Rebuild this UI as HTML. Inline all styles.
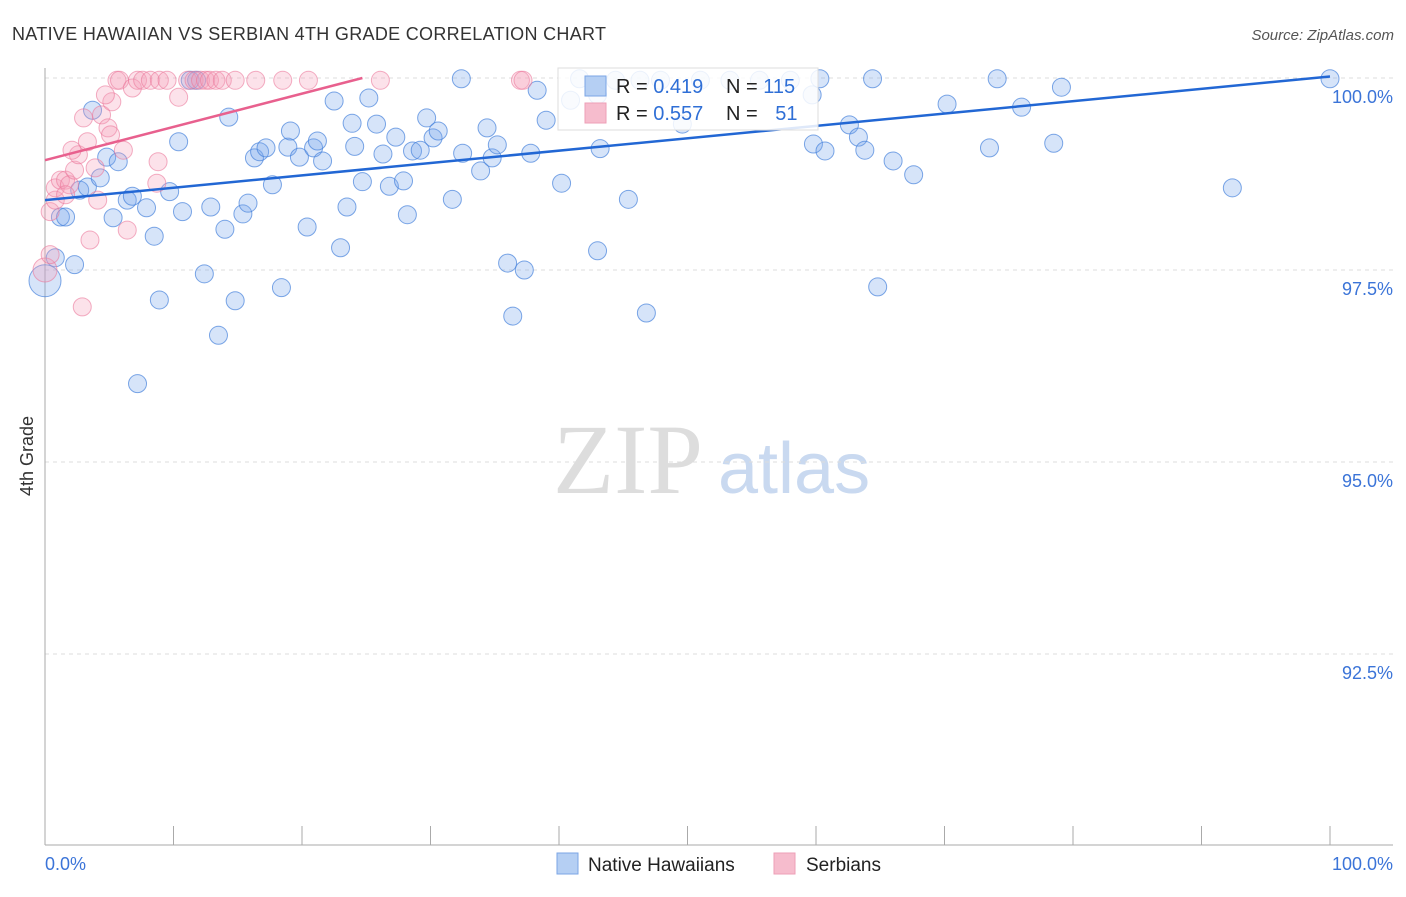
<!DOCTYPE html>
<html><head><meta charset="utf-8"><style>
body{margin:0;background:#fff;font-family:"Liberation Sans",sans-serif}
</style></head><body>
<svg id="chart" width="1406" height="892" font-family="Liberation Sans, sans-serif">
<text x="12" y="40" font-size="18" fill="#333" textLength="594">NATIVE HAWAIIAN VS SERBIAN 4TH GRADE CORRELATION CHART</text>
<text x="1394" y="40" font-size="15" fill="#555" font-style="italic" text-anchor="end">Source: ZipAtlas.com</text>
<text x="33" y="456" font-size="18" fill="#333" transform="rotate(-90 33 456)" text-anchor="middle">4th Grade</text>
<text x="553" y="493" font-size="100" fill="#ddd" style="font-family:'Liberation Serif',serif">ZIP</text>
<text x="718" y="493" font-size="72" fill="#c9d9f0">atlas</text>
<g id="grid"></g><g id="marks"></g><g id="lines"></g>
<g>
<rect x="558" y="68" width="260" height="62" fill="rgba(255,255,255,0.85)" stroke="#ddd"/>
<rect x="585" y="76" width="21" height="20" fill="#b5cff3" stroke="#7ba6e6"/>
<rect x="585" y="103" width="21" height="20" fill="#f6bccd" stroke="#ee9fb7"/>
<text x="616" y="93" font-size="20" fill="#222">R = <tspan fill="#2f6fd6">0.419</tspan></text>
<text x="726" y="93" font-size="20" fill="#222">N = <tspan fill="#2f6fd6">115</tspan></text>
<text x="616" y="120" font-size="20" fill="#222">R = <tspan fill="#2f6fd6">0.557</tspan></text>
<text x="726" y="120" font-size="20" fill="#222">N = <tspan fill="#2f6fd6" dx="12">51</tspan></text>
</g>
<g>
<rect x="557" y="853" width="21" height="21" fill="#b5cff3" stroke="#7ba6e6"/>
<text x="588" y="871" font-size="19" fill="#222">Native Hawaiians</text>
<rect x="774" y="853" width="21" height="21" fill="#f6bccd" stroke="#ee9fb7"/>
<text x="806" y="871" font-size="19" fill="#222">Serbians</text>
</g>
</svg>
<script>
const yTicks=[100,97.5,95,92.5];
const yTickLabels=["100.0%","97.5%","95.0%","92.5%"];
const xTicks=[0,10,20,30,40,50,60,70,80,90,100];
const blueX=[0,0.8,2.3,1.2,1.6,2.7,3.3,3.7,4.3,4.8,5.7,5.3,6.4,6.8,7.9,8.5,8.9,7.2,9.7,10.4,10.7,11.3,11.8,12.4,12.9,13.5,14.0,14.3,14.8,15.4,15.8,16.3,16.7,17.2,17.7,18.4,18.9,19.1,19.8,20.4,20.9,21.2,21.6,22.5,23.0,23.5,23.9,24.1,24.7,25.2,25.8,26.3,26.8,27.3,27.9,28.2,28.6,29.2,29.7,30.2,30.6,31.7,32.4,32.5,33.9,34.4,34.8,35.2,36.0,36.4,37.3,37.8,38.3,39.0,40.2,41.6,43.0,43.2,45.4,46.8,49.6,59.8,60.3,60.7,62.6,63.3,63.8,64.4,64.8,66.0,67.6,70.2,73.5,74.1,76.0,78.5,79.1,92.4,100,43.0,44.4,46.3,47.9,51.0,53.3,55.6,58.0,59.7,40.9];
const blueY=[97.36,97.66,97.57,98.19,98.19,98.54,98.58,99.58,98.70,98.97,98.91,98.18,98.41,98.46,98.31,97.94,97.11,96.02,98.52,99.17,98.26,99.97,99.97,97.45,98.32,96.65,98.03,99.49,97.10,98.23,98.37,98.96,99.04,99.09,98.61,97.27,99.10,99.31,98.97,98.06,99.09,99.18,98.92,99.70,97.79,98.32,99.41,99.11,98.65,99.74,99.40,99.01,98.59,99.23,98.66,98.22,99.05,99.06,99.48,99.22,99.31,98.42,99.99,99.02,98.79,99.35,98.96,99.13,97.59,96.90,97.50,99.02,99.84,99.45,98.63,99.99,97.75,99.08,98.42,96.94,99.40,99.14,99.99,99.05,99.39,99.23,99.06,99.99,97.28,98.92,98.74,99.66,99.09,99.99,99.62,99.15,99.88,98.57,99.99,99.78,99.97,99.97,99.97,99.97,99.97,99.97,99.97,99.78,99.71];
const pinkX=[0,0.4,0.8,0.8,1.2,1.6,1.9,2.3,2.6,3.0,3.3,3.5,3.9,4.1,4.4,4.9,5.1,5.2,5.6,5.8,6.1,6.4,6.8,7.2,7.6,8.2,8.7,8.8,8.9,9.5,10.4,11.1,11.6,12.1,12.5,12.8,13.3,13.8,14.8,16.4,18.5,20.5,26.1,37.0,37.2,2.9,0.4,1.6,2.1,4.7];
const pinkY=[97.5,98.26,98.41,98.57,98.67,98.67,98.61,98.80,99.00,99.48,99.17,97.89,98.83,98.41,99.52,99.35,99.26,99.69,99.97,99.97,99.06,98.02,99.87,99.97,99.97,99.97,98.63,98.91,99.97,99.97,99.75,99.97,99.97,99.97,99.97,99.97,99.97,99.97,99.97,99.97,99.97,99.97,99.97,99.97,99.97,97.02,97.70,98.48,99.06,99.78];
const blueTrendX=[0,100], blueTrendY=[98.41,100.02];
const pinkTrendX=[0,24.7], pinkTrendY=[98.93,100];
const NS="http://www.w3.org/2000/svg";
function xs(v){return 45+v*12.85}
function ys(v){return 78+(100-v)*76.8}
function mk(t,a,p){const e=document.createElementNS(NS,t);for(const k in a)e.setAttribute(k,a[k]);p.appendChild(e);return e}
const grid=document.getElementById('grid');
yTicks.forEach((t,i)=>{
 const l=mk('line',{x1:45,x2:1393,y1:ys(t),y2:ys(t),stroke:'#ddd','stroke-dasharray':'4,4'},grid);
 
 
 const tx=mk('text',{x:1393,y:ys(t)+25,'font-size':18,fill:'#3b74d8','text-anchor':'end'},grid);
 tx.textContent=yTickLabels[i];
 
 
});
const ax=mk('line',{x1:45,x2:45,y1:68,y2:845,stroke:'#aaa'},grid);


const bx=mk('line',{x1:45,x2:1393,y1:845,y2:845,stroke:'#aaa'},grid);


xTicks.forEach(t=>{
 const l=mk('line',{x1:xs(t),x2:xs(t),y1:826,y2:845,stroke:'#aaa'},grid);
 
 
});
[[0,"0.0%","start",45],[100,"100.0%","end",1393]].forEach(d=>{
 const tx=mk('text',{x:d[3],y:870,'font-size':18,fill:'#3b74d8','text-anchor':d[2]},grid);
 tx.textContent=d[1];
 
 
});
const marks=document.getElementById('marks');
blueX.forEach((x,i)=>{
 const c=mk('circle',{cx:xs(x),cy:ys(blueY[i]),r:i==0?16:9,fill:'rgba(120,165,235,0.3)',stroke:'rgba(70,130,220,0.7)','stroke-width':1},marks);
 
 
});
pinkX.forEach((x,i)=>{
 const c=mk('circle',{cx:xs(x),cy:ys(pinkY[i]),r:i==0?12:9,fill:'rgba(245,160,185,0.3)',stroke:'rgba(235,120,155,0.6)','stroke-width':1},marks);
 
 
});
const lines=document.getElementById('lines');
const bl=mk('line',{x1:xs(blueTrendX[0]),y1:ys(blueTrendY[0]),x2:xs(blueTrendX[1]),y2:ys(blueTrendY[1]),stroke:'#2267d4','stroke-width':2.5},lines);


const pl=mk('line',{x1:xs(pinkTrendX[0]),y1:ys(pinkTrendY[0]),x2:xs(pinkTrendX[1]),y2:ys(pinkTrendY[1]),stroke:'#e8608e','stroke-width':2.5},lines);


</script>
</body></html>
